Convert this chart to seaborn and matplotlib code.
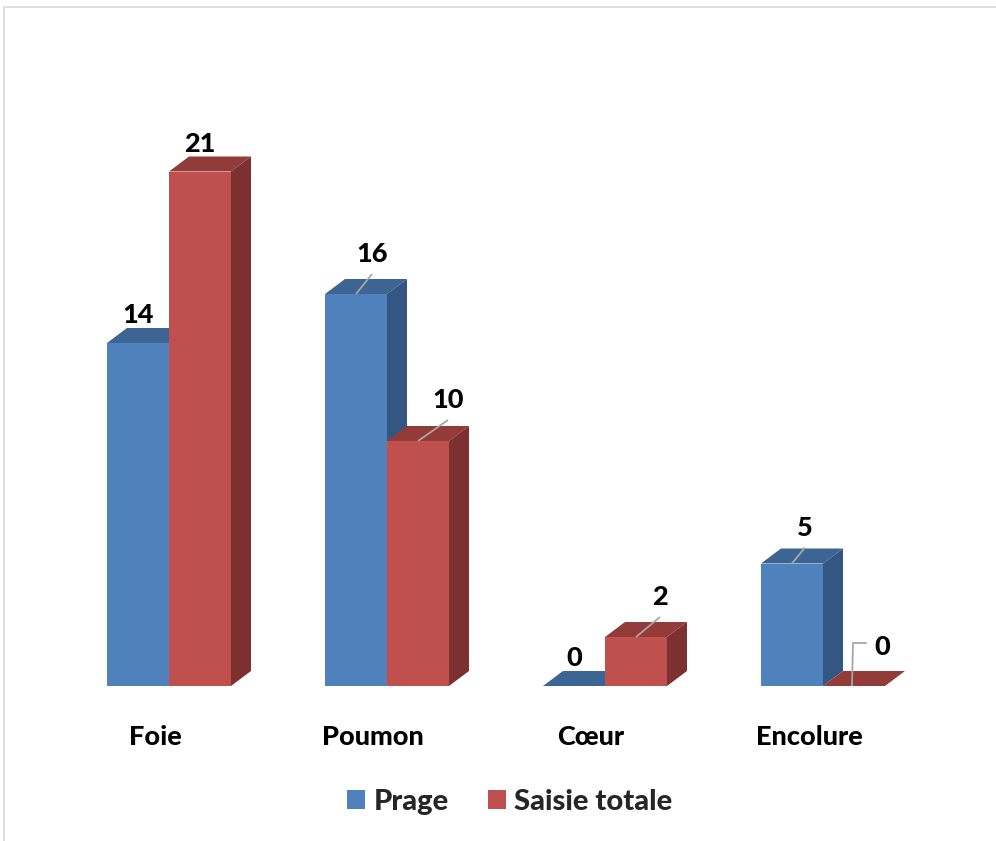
import numpy as np
import pandas as pd
import matplotlib
matplotlib.use("Agg")
import matplotlib.pyplot as plt
import seaborn as sns
from matplotlib.patches import Polygon, Patch, Rectangle

# ---------------- data ----------------
categories = ["Foie", "Poumon", "Cœur", "Encolure"]
series_names = ["Prage", "Saisie totale"]
prage = [14, 16, 0, 5]
saisie_totale = [21, 10, 2, 0]

df = pd.DataFrame({
    "Organe": categories * 2,
    "Série": [series_names[0]] * len(categories) + [series_names[1]] * len(categories),
    "Valeur": prage + saisie_totale,
})

# ---------------- style ----------------
sns.set_theme(style="white")
FONT = ["Lato", "DejaVu Sans"]
plt.rcParams["font.family"] = FONT
WEIGHT = 900
plt.rcParams["font.weight"] = WEIGHT
FS = 19.5
FS_LEG = 21

front_c = ["#4F81BD", "#C0504D"]
top_c = ["#3D6594", "#933B39"]
side_c = ["#345782", "#7C302F"]

W, H = 996, 841
fig = plt.figure(figsize=(W / 100, H / 100), dpi=100)
fig.patch.set_facecolor("white")

# axes geometry in pixels (from top-left)
AX_L, AX_R, AX_B, AX_T = 60, 960, 686, 100
ax = fig.add_axes([AX_L / W, (H - AX_B) / H, (AX_R - AX_L) / W, (AX_B - AX_T) / H])

PX_CAT = 218.0     # pixels per category
PX_UNIT = 24.5     # pixels per value unit
X0_PX = 169.0      # pixel x of category 0 centre
sx = 1.0 / PX_CAT
sy = 1.0 / PX_UNIT

sns.barplot(data=df, x="Organe", y="Valeur", hue="Série", order=categories,
            hue_order=series_names, palette=front_c, width=62 * 2 / PX_CAT,
            saturation=1, ax=ax, legend=False, linewidth=0)

ax.set_xlim((AX_L - X0_PX) * sx, (AX_R - X0_PX) * sx)
ax.set_ylim(0, (AX_B - AX_T) * sy)
ax.axis("off")

DX = 20 * sx
DY = 15 * sy

# label offsets (pixels: right, down) and leader type
label_style = {
    (1, 0): (16, -12, "line"),
    (1, 1): (30, -13, "line"),
    (2, 1): (24, -12, "line"),
    (3, 0): (13, -8, "line"),
    (3, 1): (28, -11, "elbow"),
}

for p in list(ax.patches):
    x0 = p.get_x()
    w = p.get_width()
    h = p.get_height()
    c = x0 + w / 2
    i = int(round(c))
    j = 0 if c < i else 1
    x1 = x0 + w
    p.set_zorder(3 + 2 * j)
    # top face
    ax.add_patch(Polygon([(x0, h), (x1, h), (x1 + DX, h + DY), (x0 + DX, h + DY)],
                         closed=True, facecolor=top_c[j], edgecolor="none", zorder=2 + 2 * j))
    if h > 0:
        ax.add_patch(Polygon([(x1, 0), (x1 + DX, DY), (x1 + DX, h + DY), (x1, h)],
                             closed=True, facecolor=side_c[j], edgecolor="none", zorder=2 + 2 * j))
    # value label
    ox, oy, kind = label_style.get((i, j), (0, 0, None))
    tx = c + ox * sx
    ty = h + (20 - oy) * sy
    ax.text(tx, ty, f"{h:g}", ha="center", va="baseline", fontsize=FS,
            fontweight=WEIGHT, color="black", zorder=10, clip_on=False)
    if kind == "line":
        ax.plot([c, tx], [h, ty - 12 * sy], color="#A6A6A6", lw=1.3, zorder=9,
                solid_capstyle="butt")
    elif kind == "elbow":
        ym = ty + 12 * sy
        ax.plot([c - 2 * sx, c - 1 * sx, tx - 16 * sx], [h, ym, ym], color="#A6A6A6",
                lw=1.3, zorder=9)

# category labels
for i, cat in enumerate(categories):
    ax.text(i - 14 * sx, -51 * sy, cat, ha="center", va="center", fontsize=FS,
            fontweight=WEIGHT, color="black", clip_on=False)

# legend
handles = [Patch(facecolor=front_c[k], edgecolor="none", label=series_names[k]) for k in range(2)]
fig.legend(handles=handles, loc="center", bbox_to_anchor=(510 / W, (H - 802) / H), ncol=2,
           frameon=False, prop=dict(family=FONT, weight=WEIGHT, size=FS_LEG),
           handlelength=0.6, handleheight=0.6, handletextpad=0.3, columnspacing=1.35)

# outer frame
fig.add_artist(Rectangle((3.5 / W, -0.05), 1.2, (H - 6.5) / H + 0.05, transform=fig.transFigure,
                         fill=False, edgecolor="#D9D9D9", lw=1.2))

fig.savefig("out.png", dpi=100, facecolor="white")
